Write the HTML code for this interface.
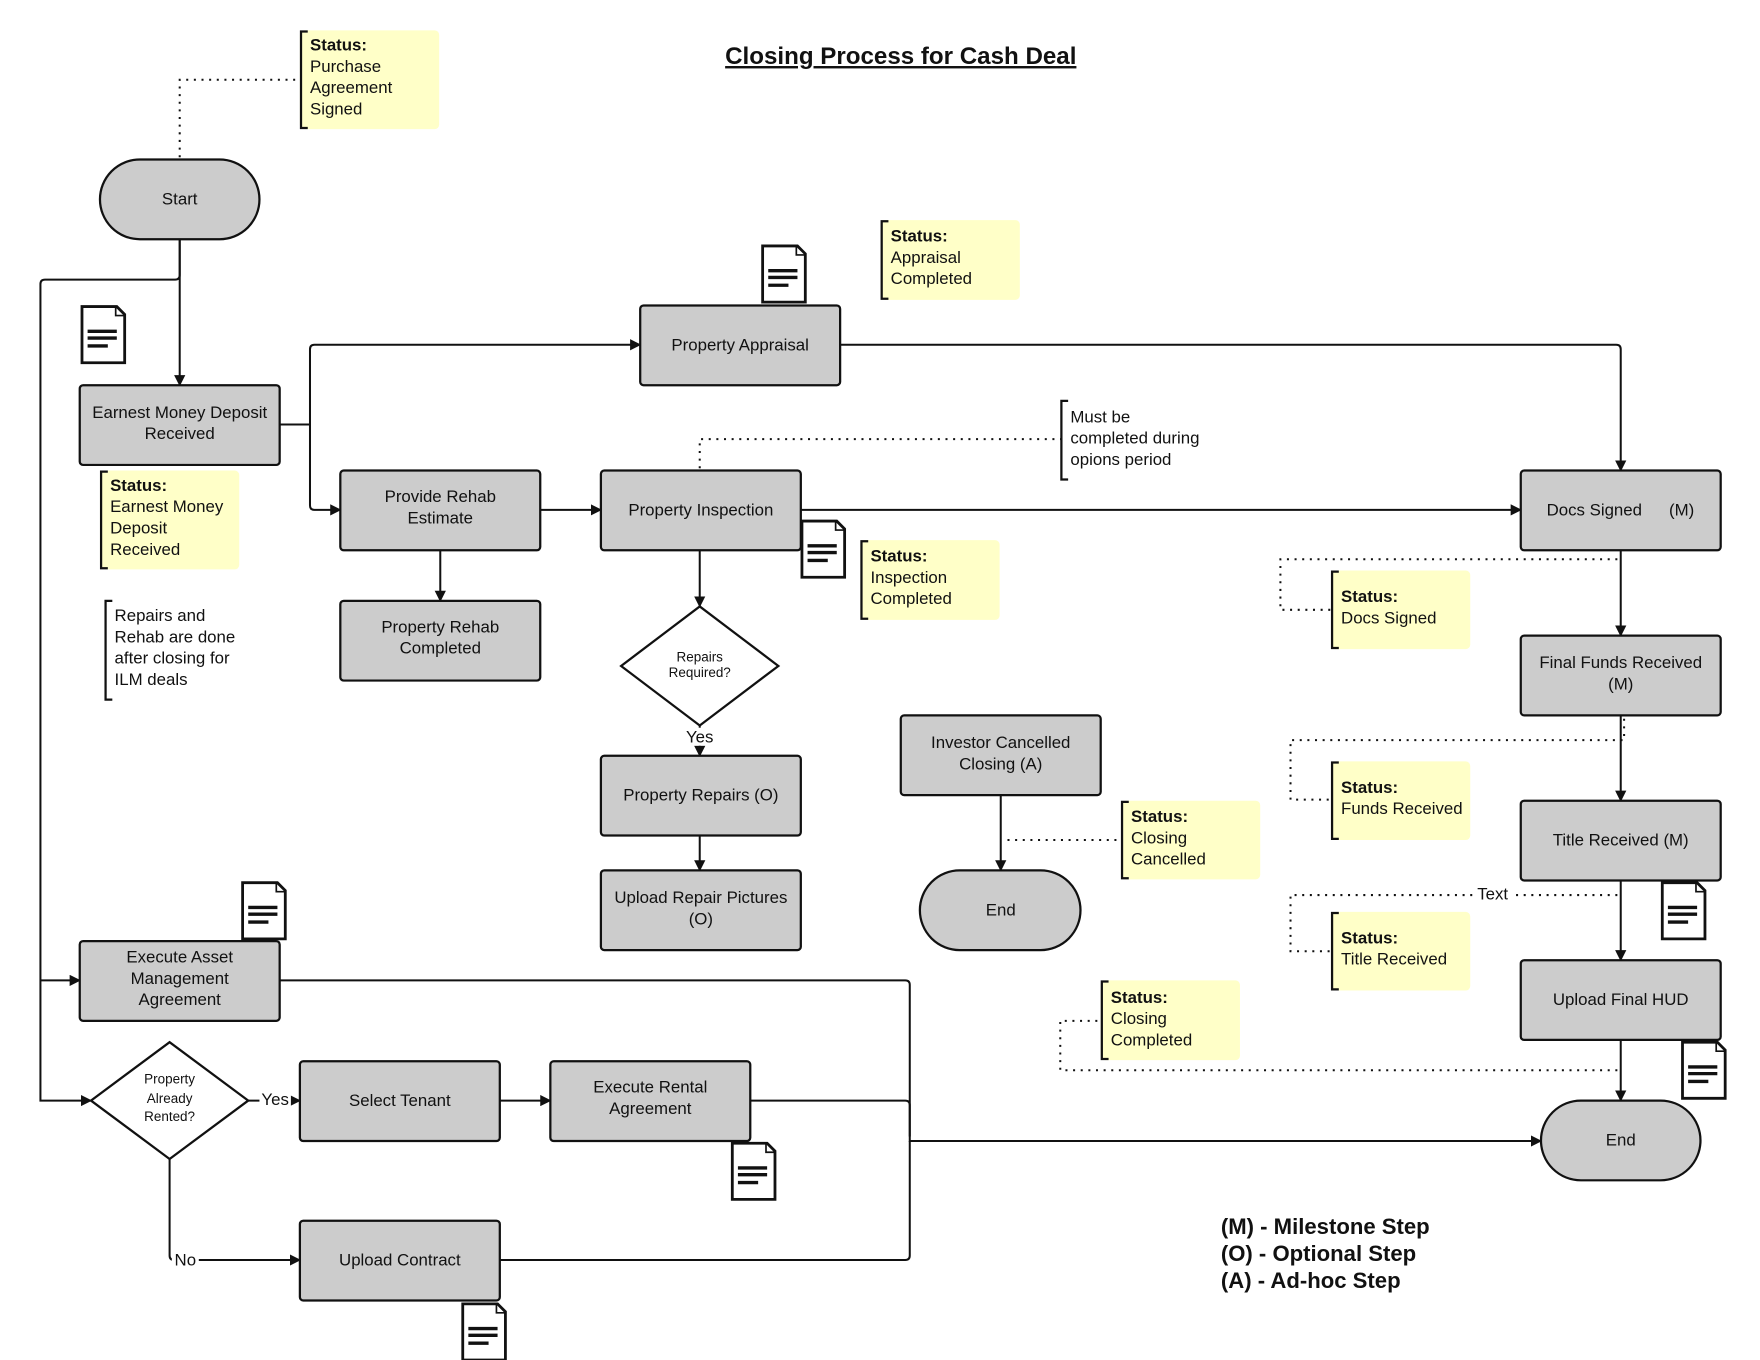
<!DOCTYPE html>
<html><head><meta charset="utf-8"><style>
html,body{margin:0;padding:0;background:#fff;}
svg{display:block;}
text{font-family:"Liberation Sans",Arial,sans-serif;font-size:15px;fill:#111;}
.b{fill:#ccc;stroke:#111;stroke-width:2;}
.l{fill:none;stroke:#111;stroke-width:1.8;}
.d{fill:none;stroke:#111;stroke-width:1.8;stroke-dasharray:1.8 5;}
.n{fill:#ffffc8;stroke:none;}
.br{fill:none;stroke:#111;stroke-width:2;}
.s{font-size:12px;}
.bo{font-weight:bold;}
</style></head><body>
<svg width="1760" height="1360" viewBox="0 0 1567 1211" preserveAspectRatio="none" xmlns="http://www.w3.org/2000/svg">
<defs>
<marker id="a" markerWidth="10" markerHeight="10" refX="9" refY="5" orient="auto" markerUnits="userSpaceOnUse">
<path d="M0,0 L10,5 L0,10 z" fill="#111"/></marker>
</defs>

<text x="802" y="57" text-anchor="middle" class="bo" style="font-size:21.5px;text-decoration:underline">Closing Process for Cash Deal</text>

<!-- connectors -->
<path class="d" d="M160,140 V71 H267"/>
<path class="l" d="M160,213 V343" marker-end="url(#a)"/>
<path class="l" d="M160,213 V245 Q160,249 156,249 H40 Q36,249 36,253 V980 H81" marker-end="url(#a)"/>
<path class="l" d="M36,873 H71" marker-end="url(#a)"/>
<path class="l" d="M249,378 H276 V311 Q276,307 280,307 H570" marker-end="url(#a)"/>
<path class="l" d="M276,378 V450 Q276,454 280,454 H303" marker-end="url(#a)"/>
<path class="l" d="M748,307 H1439 Q1443,307 1443,311 V419" marker-end="url(#a)"/>
<path class="l" d="M481,454 H535" marker-end="url(#a)"/>
<path class="l" d="M392,490 V535" marker-end="url(#a)"/>
<path class="l" d="M713,454 H1354" marker-end="url(#a)"/>
<path class="d" d="M623,417 V391 H945"/>
<path class="l" d="M623,490 V540" marker-end="url(#a)"/>
<path class="l" d="M623,646 V673" marker-end="url(#a)"/>
<path class="l" d="M623,744 V775" marker-end="url(#a)"/>
<path class="l" d="M891,708 V775" marker-end="url(#a)"/>
<path class="d" d="M897,748 H998"/>
<path class="l" d="M1443,490 V566" marker-end="url(#a)"/>
<path class="l" d="M1443,637 V713" marker-end="url(#a)"/>
<path class="l" d="M1443,784 V855" marker-end="url(#a)"/>
<path class="l" d="M1443,926 V980" marker-end="url(#a)"/>
<path class="d" d="M1440,498 H1140 V543 H1185"/>
<path class="d" d="M1446,640 V659 H1149 V712 H1185"/>
<path class="d" d="M1440,797 H1149 V847 H1185"/>
<path class="d" d="M1440,953 H944 V909 H980"/>
<rect x="1312" y="787" width="34" height="18" fill="#fff"/>
<text x="1329" y="801" text-anchor="middle">Text</text>
<path class="l" d="M249,873 H806 Q810,873 810,877 V1016 H1372" marker-end="url(#a)"/>
<path class="l" d="M668,980 H806 Q810,980 810,984 V1012"/>
<path class="l" d="M445,1122 H806 Q810,1122 810,1118 V1016"/>
<path class="l" d="M221,980 H267" marker-end="url(#a)"/>
<rect x="231" y="970" width="28" height="18" fill="#fff"/>
<text x="245" y="984" text-anchor="middle">Yes</text>
<path class="l" d="M445,980 H490" marker-end="url(#a)"/>
<path class="l" d="M151,1032 V1118 Q151,1122 155,1122 H267" marker-end="url(#a)"/>
<rect x="153" y="1113" width="24" height="18" fill="#fff"/>
<text x="165" y="1127" text-anchor="middle">No</text>

<!-- terminators -->
<rect class="b" x="89" y="142" width="142" height="71" rx="35.5"/>
<text x="160" y="182" text-anchor="middle">Start</text>
<rect class="b" x="819" y="775" width="143" height="71" rx="35.5"/>
<text x="891" y="815" text-anchor="middle">End</text>
<rect class="b" x="1372" y="980" width="142" height="71" rx="35.5"/>
<text x="1443" y="1020" text-anchor="middle">End</text>

<!-- boxes -->
<rect class="b" x="71" y="343" width="178" height="71" rx="3"/>
<text x="160" y="372" text-anchor="middle">Earnest Money Deposit</text><text x="160" y="391" text-anchor="middle">Received</text>
<rect class="b" x="570" y="272" width="178" height="71" rx="3"/>
<text x="659" y="312" text-anchor="middle">Property Appraisal</text>
<rect class="b" x="303" y="419" width="178" height="71" rx="3"/>
<text x="392" y="447" text-anchor="middle">Provide Rehab</text><text x="392" y="466" text-anchor="middle">Estimate</text>
<rect class="b" x="535" y="419" width="178" height="71" rx="3"/>
<text x="624" y="459" text-anchor="middle">Property Inspection</text>
<rect class="b" x="1354" y="419" width="178" height="71" rx="3"/>
<text x="1377" y="459">Docs Signed</text><text x="1486" y="459">(M)</text>
<rect class="b" x="303" y="535" width="178" height="71" rx="3"/>
<text x="392" y="563" text-anchor="middle">Property Rehab</text><text x="392" y="582" text-anchor="middle">Completed</text>
<rect class="b" x="535" y="673" width="178" height="71" rx="3"/>
<text x="624" y="713" text-anchor="middle">Property Repairs (O)</text>
<rect class="b" x="535" y="775" width="178" height="71" rx="3"/>
<text x="624" y="804" text-anchor="middle">Upload Repair Pictures</text><text x="624" y="823" text-anchor="middle">(O)</text>
<rect class="b" x="802" y="637" width="178" height="71" rx="3"/>
<text x="891" y="666" text-anchor="middle">Investor Cancelled</text><text x="891" y="685" text-anchor="middle">Closing (A)</text>
<rect class="b" x="1354" y="566" width="178" height="71" rx="3"/>
<text x="1443" y="595" text-anchor="middle">Final Funds Received</text><text x="1443" y="614" text-anchor="middle">(M)</text>
<rect class="b" x="1354" y="713" width="178" height="71" rx="3"/>
<text x="1443" y="753" text-anchor="middle">Title Received (M)</text>
<rect class="b" x="1354" y="855" width="178" height="71" rx="3"/>
<text x="1443" y="895" text-anchor="middle">Upload Final HUD</text>
<rect class="b" x="71" y="838" width="178" height="71" rx="3"/>
<text x="160" y="857" text-anchor="middle">Execute Asset</text><text x="160" y="876" text-anchor="middle">Management</text><text x="160" y="895" text-anchor="middle">Agreement</text>
<rect class="b" x="267" y="945" width="178" height="71" rx="3"/>
<text x="356" y="985" text-anchor="middle">Select Tenant</text>
<rect class="b" x="490" y="945" width="178" height="71" rx="3"/>
<text x="579" y="973" text-anchor="middle">Execute Rental</text><text x="579" y="992" text-anchor="middle">Agreement</text>
<rect class="b" x="267" y="1087" width="178" height="71" rx="3"/>
<text x="356" y="1127" text-anchor="middle">Upload Contract</text>

<!-- diamonds -->
<path d="M623,540 L693,593 L623,646 L553,593 Z" fill="#fff" stroke="#111" stroke-width="2"/>
<text x="623" y="589" text-anchor="middle" class="s">Repairs</text><text x="623" y="603" text-anchor="middle" class="s">Required?</text>
<rect x="610" y="648" width="28" height="16" fill="#fff"/>
<text x="623" y="661" text-anchor="middle">Yes</text>
<path d="M151,928 L221,980 L151,1032 L81,980 Z" fill="#fff" stroke="#111" stroke-width="2"/>
<text x="151" y="965" text-anchor="middle" class="s">Property</text><text x="151" y="982" text-anchor="middle" class="s">Already</text><text x="151" y="998" text-anchor="middle" class="s">Rented?</text>

<!-- notes -->
<g><rect class="n" x="267" y="27" width="124" height="88" rx="4"/><path class="br" d="M274,28 H268 V114 H274"/>
<text x="276" y="45" class="bo">Status:</text><text x="276" y="64">Purchase</text><text x="276" y="83">Agreement</text><text x="276" y="102">Signed</text></g>
<g><rect class="n" x="89" y="419" width="124" height="88" rx="4"/><path class="br" d="M96,420 H90 V506 H96"/>
<text x="98" y="437" class="bo">Status:</text><text x="98" y="456">Earnest Money</text><text x="98" y="475">Deposit</text><text x="98" y="494">Received</text></g>
<g><path class="br" d="M100,535 H94 V623 H100"/>
<text x="102" y="553">Repairs and</text><text x="102" y="572">Rehab are done</text><text x="102" y="591">after closing for</text><text x="102" y="610">ILM deals</text></g>
<g><rect class="n" x="784" y="196" width="124" height="71" rx="4"/><path class="br" d="M791,197 H785 V266 H791"/>
<text x="793" y="215" class="bo">Status:</text><text x="793" y="234">Appraisal</text><text x="793" y="253">Completed</text></g>
<g><path class="br" d="M951,357 H945 V427 H951"/>
<text x="953" y="376">Must be</text><text x="953" y="395">completed during</text><text x="953" y="414">opions period</text></g>
<g><rect class="n" x="766" y="481" width="124" height="71" rx="4"/><path class="br" d="M773,482 H767 V551 H773"/>
<text x="775" y="500" class="bo">Status:</text><text x="775" y="519">Inspection</text><text x="775" y="538">Completed</text></g>
<g><rect class="n" x="998" y="713" width="124" height="70" rx="4"/><path class="br" d="M1005,714 H999 V782 H1005"/>
<text x="1007" y="732" class="bo">Status:</text><text x="1007" y="751">Closing</text><text x="1007" y="770">Cancelled</text></g>
<g><rect class="n" x="1185" y="508" width="124" height="70" rx="4"/><path class="br" d="M1192,509 H1186 V577 H1192"/>
<text x="1194" y="536" class="bo">Status:</text><text x="1194" y="555">Docs Signed</text></g>
<g><rect class="n" x="1185" y="678" width="124" height="70" rx="4"/><path class="br" d="M1192,679 H1186 V747 H1192"/>
<text x="1194" y="706" class="bo">Status:</text><text x="1194" y="725">Funds Received</text></g>
<g><rect class="n" x="1185" y="812" width="124" height="70" rx="4"/><path class="br" d="M1192,813 H1186 V881 H1192"/>
<text x="1194" y="840" class="bo">Status:</text><text x="1194" y="859">Title Received</text></g>
<g><rect class="n" x="980" y="873" width="124" height="71" rx="4"/><path class="br" d="M987,874 H981 V943 H987"/>
<text x="989" y="893" class="bo">Status:</text><text x="989" y="912">Closing</text><text x="989" y="931">Completed</text></g>

<!-- document icons -->
<g transform="translate(72,272)"><path d="M1,1 H32 L39,8 V51 H1 Z" fill="#fff" stroke="#111" stroke-width="2.5"/><path d="M31,1 V9 H39" fill="none" stroke="#111" stroke-width="1.5"/><path d="M6,23 H32 M6,29 H32 M6,36 H24" stroke="#111" stroke-width="3"/></g>
<g transform="translate(678,218)"><path d="M1,1 H32 L39,8 V51 H1 Z" fill="#fff" stroke="#111" stroke-width="2.5"/><path d="M31,1 V9 H39" fill="none" stroke="#111" stroke-width="1.5"/><path d="M6,23 H32 M6,29 H32 M6,36 H24" stroke="#111" stroke-width="3"/></g>
<g transform="translate(713,463)"><path d="M1,1 H32 L39,8 V51 H1 Z" fill="#fff" stroke="#111" stroke-width="2.5"/><path d="M31,1 V9 H39" fill="none" stroke="#111" stroke-width="1.5"/><path d="M6,23 H32 M6,29 H32 M6,36 H24" stroke="#111" stroke-width="3"/></g>
<g transform="translate(215,785)"><path d="M1,1 H32 L39,8 V51 H1 Z" fill="#fff" stroke="#111" stroke-width="2.5"/><path d="M31,1 V9 H39" fill="none" stroke="#111" stroke-width="1.5"/><path d="M6,23 H32 M6,29 H32 M6,36 H24" stroke="#111" stroke-width="3"/></g>
<g transform="translate(651,1017)"><path d="M1,1 H32 L39,8 V51 H1 Z" fill="#fff" stroke="#111" stroke-width="2.5"/><path d="M31,1 V9 H39" fill="none" stroke="#111" stroke-width="1.5"/><path d="M6,23 H32 M6,29 H32 M6,36 H24" stroke="#111" stroke-width="3"/></g>
<g transform="translate(411,1160)"><path d="M1,1 H32 L39,8 V51 H1 Z" fill="#fff" stroke="#111" stroke-width="2.5"/><path d="M31,1 V9 H39" fill="none" stroke="#111" stroke-width="1.5"/><path d="M6,23 H32 M6,29 H32 M6,36 H24" stroke="#111" stroke-width="3"/></g>
<g transform="translate(1479,785)"><path d="M1,1 H32 L39,8 V51 H1 Z" fill="#fff" stroke="#111" stroke-width="2.5"/><path d="M31,1 V9 H39" fill="none" stroke="#111" stroke-width="1.5"/><path d="M6,23 H32 M6,29 H32 M6,36 H24" stroke="#111" stroke-width="3"/></g>
<g transform="translate(1497,927)"><path d="M1,1 H32 L39,8 V51 H1 Z" fill="#fff" stroke="#111" stroke-width="2.5"/><path d="M31,1 V9 H39" fill="none" stroke="#111" stroke-width="1.5"/><path d="M6,23 H32 M6,29 H32 M6,36 H24" stroke="#111" stroke-width="3"/></g>

<!-- legend -->
<text x="1087" y="1099" class="bo" style="font-size:19.7px">(M) - Milestone Step</text>
<text x="1087" y="1123" class="bo" style="font-size:19.7px">(O) - Optional Step</text>
<text x="1087" y="1147" class="bo" style="font-size:19.7px">(A) - Ad-hoc Step</text>
</svg>
</body></html>
